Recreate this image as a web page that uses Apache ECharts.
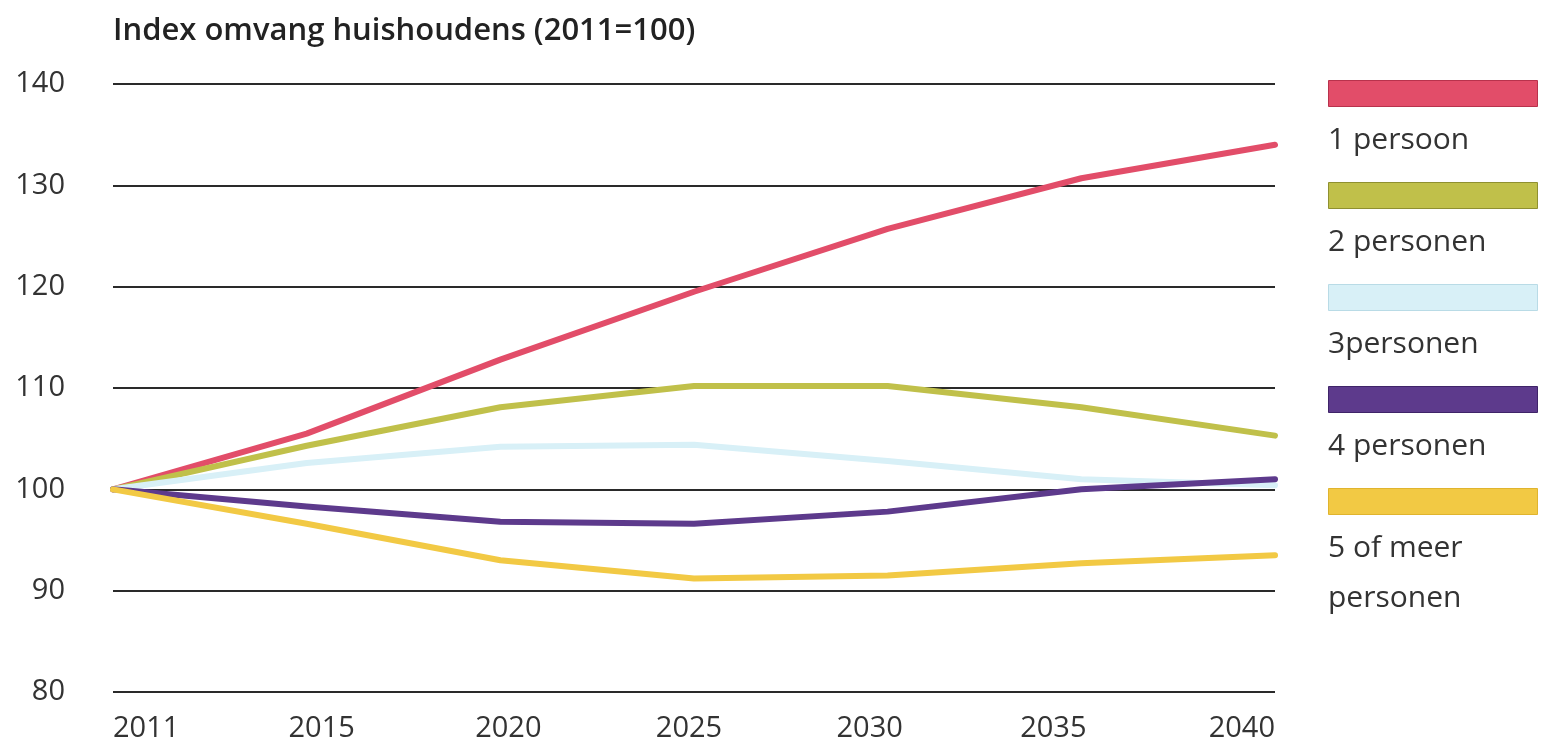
<!DOCTYPE html>
<html>
<head>
<meta charset="utf-8">
<title>Index omvang huishoudens</title>
<script src="https://cdn.jsdelivr.net/npm/echarts@6/dist/echarts.min.js"></script>
<style>
  html, body { margin: 0; padding: 0; background: #fff; }
  #chart { width: 1542px; height: 752px; }
</style>
</head>
<body>
<div id="chart"></div>
<script>
// jaren op de x-as
const years = ['2011', '2015', '2020', '2025', '2030', '2035', '2040']

// index per huishoudgrootte (2011=100)
const eenPersoon = [100, 105.5, 112.8, 119.5, 125.7, 130.7, 134.0]
const tweePersonen = [100, 104.3, 108.1, 110.2, 110.2, 108.1, 105.3]
const driePersonen = [100, 102.6, 104.2, 104.4, 102.8, 101.0, 100.4]
const vierPersonen = [100, 98.3, 96.8, 96.6, 97.8, 100.0, 101.0]
const vijfOfMeer = [100, 96.6, 93.0, 91.2, 91.5, 92.7, 93.5]

const seriesNames = ['1 persoon', '2 personen', '3personen', '4 personen', '5 of meer\npersonen']
const seriesData = [eenPersoon, tweePersonen, driePersonen, vierPersonen, vijfOfMeer]
const colors = ['#e24d69', '#c0c04a', '#d8f0f7', '#5d3a8c', '#f2c944']
const borderColors = ['#b8324c', '#8f9030', '#b9dbe6', '#3f2468', '#e0b42e']

// de jaartallen staan in het origineel iets verschoven t.o.v. de tick
const labelShift = [0, 15, 8, -5, -18, -28, 0]

const fontFamily = '"Open Sans", "Noto Sans", sans-serif'

const chart = echarts.init(document.getElementById('chart'))

const series = seriesNames.map((name, i) => ({
  name: name,
  type: 'line',
  data: seriesData[i],
  symbol: 'none',
  smooth: false,
  lineStyle: { color: colors[i], width: 6, cap: 'round', join: 'round' },
  itemStyle: { color: colors[i] },
  z: 3 + i
}))

// rich styles voor de verschoven x-labels
const labelRich = {}
labelShift.forEach((s, i) => {
  labelRich['s' + i] = {
    fontFamily: fontFamily,
    fontSize: 29,
    color: '#333',
    padding: s >= 0 ? [0, 0, 0, 2 * s] : [0, -2 * s, 0, 0]
  }
})

// legenda: blok met tekst eronder
const legendGraphics = []
seriesNames.forEach((name, i) => {
  const top = 80 + i * 102
  legendGraphics.push({
    type: 'rect',
    left: 1328,
    top: top,
    shape: { width: 209, height: 26 },
    style: { fill: colors[i], stroke: borderColors[i], lineWidth: 1 }
  })
  legendGraphics.push({
    type: 'text',
    left: 1328,
    top: top + 35,
    style: {
      text: name,
      fill: '#333',
      font: '30px ' + fontFamily,
      lineHeight: 50
    }
  })
})

const option = {
  backgroundColor: '#fff',
  animation: false,
  title: {
    text: 'Index omvang huishoudens (2011=100)',
    left: 108,
    top: 11,
    textStyle: {
      fontFamily: fontFamily,
      fontSize: 31,
      fontWeight: 600,
      color: '#222'
    }
  },
  grid: {
    left: 113,
    right: 267,
    top: 84,
    bottom: 60
  },
  xAxis: {
    type: 'category',
    data: years,
    boundaryGap: false,
    axisLine: { show: false },
    axisTick: { show: false },
    axisLabel: {
      margin: 22,
      fontFamily: fontFamily,
      fontSize: 29,
      color: '#333',
      alignMinLabel: 'left',
      alignMaxLabel: 'right',
      formatter: (value, idx) => '{s' + idx + '|' + value + '}',
      rich: labelRich
    }
  },
  yAxis: {
    type: 'value',
    min: 80,
    max: 140,
    interval: 10,
    axisLine: { show: false },
    axisTick: { show: false },
    axisLabel: {
      margin: 48,
      fontFamily: fontFamily,
      fontSize: 29,
      color: '#333'
    },
    splitLine: { lineStyle: { color: '#2a2a2a', width: 2 } }
  },
  graphic: legendGraphics,
  series: series
}

chart.setOption(option)
window.addEventListener('resize', () => chart.resize())
</script>
</body>
</html>
